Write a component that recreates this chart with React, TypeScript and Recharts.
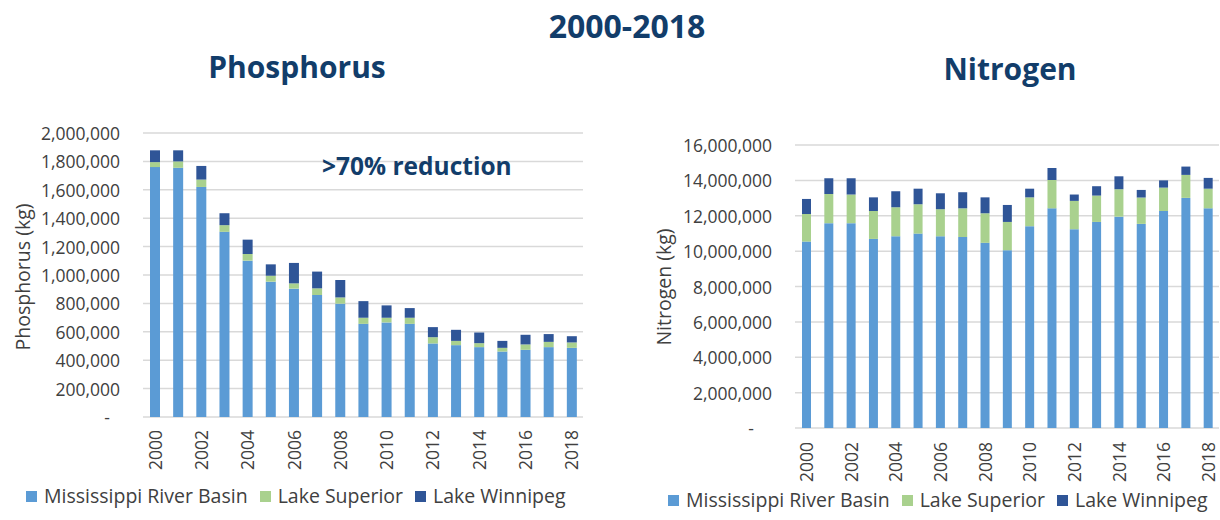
import { BarChart, Bar, XAxis, YAxis, CartesianGrid } from 'recharts';

const YEARS = [
  '2000', '2001', '2002', '2003', '2004', '2005', '2006', '2007', '2008', '2009',
  '2010', '2011', '2012', '2013', '2014', '2015', '2016', '2017', '2018',
];

// Phosphorus loads (kg)
const P_MISSISSIPPI = [
  1760000, 1755000, 1620000, 1304000, 1101000, 953000, 904000, 859000, 798000, 656000,
  666000, 656000, 518000, 506000, 492000, 461000, 473000, 492000, 487000,
];
const P_SUPERIOR = [
  35000, 45000, 52000, 47000, 47000, 42000, 37000, 47000, 44000, 43000,
  33000, 43000, 44000, 30000, 28000, 26000, 38000, 37000, 38000,
];
const P_WINNIPEG = [
  83000, 78000, 96000, 84000, 101000, 80000, 144000, 118000, 123000, 117000,
  87000, 68000, 71000, 78000, 75000, 49000, 68000, 55000, 44000,
];

// Nitrogen loads (kg)
const N_MISSISSIPPI = [
  10540000, 11580000, 11580000, 10690000, 10840000, 10990000, 10840000, 10800000, 10470000, 10050000,
  11410000, 12420000, 11240000, 11650000, 11950000, 11540000, 12270000, 13010000, 12420000,
];
const N_SUPERIOR = [
  1560000, 1650000, 1620000, 1580000, 1640000, 1660000, 1530000, 1620000, 1670000, 1600000,
  1630000, 1600000, 1600000, 1490000, 1550000, 1490000, 1320000, 1300000, 1110000,
];
const N_WINNIPEG = [
  850000, 890000, 920000, 770000, 900000, 880000, 900000, 910000, 900000, 960000,
  490000, 680000, 360000, 530000, 730000, 430000, 410000, 470000, 610000,
];

const P_TICKS = [0, 200000, 400000, 600000, 800000, 1000000, 1200000, 1400000, 1600000, 1800000, 2000000];
const N_TICKS = [0, 2000000, 4000000, 6000000, 8000000, 10000000, 12000000, 14000000, 16000000];

const SERIES = [
  { key: 'mississippi', name: 'Mississippi River Basin', color: '#5B9BD5' },
  { key: 'superior', name: 'Lake Superior', color: '#A9D18E' },
  { key: 'winnipeg', name: 'Lake Winnipeg', color: '#2F5597' },
];

const FONT = '"Open Sans", sans-serif';
const NAVY = '#123D6A';
const TEXT = '#404040';

const phosphorusData = YEARS.map((year, i) => ({
  year,
  mississippi: P_MISSISSIPPI[i],
  superior: P_SUPERIOR[i],
  winnipeg: P_WINNIPEG[i],
}));

const nitrogenData = YEARS.map((year, i) => ({
  year,
  mississippi: N_MISSISSIPPI[i],
  superior: N_SUPERIOR[i],
  winnipeg: N_WINNIPEG[i],
}));

function YTick({ x, y, payload, zeroShift }: any) {
  const zero = payload.value === 0;
  return (
    <text
      x={zero ? x - zeroShift : x}
      y={y}
      textAnchor="end"
      dominantBaseline="central"
      fill={TEXT}
      fontSize={17.5}
      fontFamily={FONT}
    >
      {zero ? '-' : payload.value.toLocaleString('en-US')}
    </text>
  );
}

function XTick({ x, y, payload }: any) {
  return (
    <text
      x={x}
      y={y}
      transform={`rotate(-90, ${x}, ${y})`}
      textAnchor="end"
      dominantBaseline="central"
      fill={TEXT}
      fontSize={17.5}
      fontFamily={FONT}
    >
      {payload.value}
    </text>
  );
}

function StackChart({ data, ticks, yWidth, margin, barSize, xGap, zeroShift }: any) {
  return (
    <BarChart width={600} height={520} data={data} margin={margin}>
      <CartesianGrid vertical={false} stroke="#d9d9d9" strokeWidth={1.5} />
      <XAxis
        dataKey="year"
        interval={1}
        height={60}
        axisLine={false}
        tickLine={false}
        tickSize={0}
        tickMargin={xGap}
        tick={(p: any) => <XTick {...p} />}
      />
      <YAxis
        width={yWidth}
        domain={[0, ticks[ticks.length - 1]]}
        ticks={ticks}
        interval={0}
        axisLine={false}
        tickLine={false}
        tickSize={0}
        tickMargin={23}
        tick={(p: any) => <YTick {...p} zeroShift={zeroShift} />}
      />
      {SERIES.map((s) => (
        <Bar
          key={s.key}
          dataKey={s.key}
          name={s.name}
          stackId="a"
          fill={s.color}
          barSize={barSize}
          isAnimationActive={false}
        />
      ))}
    </BarChart>
  );
}

function LegendRow({ left, top }: { left: number; top: number }) {
  return (
    <div
      style={{
        position: 'absolute',
        left,
        top,
        display: 'flex',
        alignItems: 'center',
        fontFamily: FONT,
        fontSize: 19.5,
        lineHeight: '20px',
        color: TEXT,
        whiteSpace: 'nowrap',
      }}
    >
      {SERIES.map((s, i) => (
        <div key={s.key} style={{ display: 'flex', alignItems: 'center', marginLeft: i === 0 ? 0 : 12 }}>
          <div style={{ width: 11, height: 11, background: s.color, marginRight: 7 }} />
          <span>{s.name}</span>
        </div>
      ))}
    </div>
  );
}

export default function App() {
  return (
    <div
      style={{
        position: 'absolute',
        left: 0,
        top: 0,
        width: 1220,
        height: 520,
        overflow: 'hidden',
        background: '#fff',
      }}
    >
      <div style={{ position: 'absolute', left: 0, top: 0 }}>
        <StackChart
          data={phosphorusData}
          ticks={P_TICKS}
          yWidth={143}
          margin={{ top: 133, right: 17, bottom: 43, left: 0 }}
          barSize={10}
          xGap={13}
          zeroShift={10}
        />
      </div>
      <div style={{ position: 'absolute', left: 640, top: 0 }}>
        <StackChart
          data={nitrogenData}
          ticks={N_TICKS}
          yWidth={155}
          margin={{ top: 145, right: 21, bottom: 32, left: 0 }}
          barSize={9}
          xGap={14}
          zeroShift={18}
        />
      </div>

      <svg
        width={1220}
        height={520}
        style={{ position: 'absolute', left: 0, top: 0, pointerEvents: 'none' }}
      >
        <text x={627} y={38} textAnchor="middle" fontFamily={FONT} fontWeight={700} fontSize={32} fill={NAVY}>
          2000-2018
        </text>
        <text x={297} y={78} textAnchor="middle" fontFamily={FONT} fontWeight={700} fontSize={30} fill={NAVY}>
          Phosphorus
        </text>
        <text x={1010} y={80} textAnchor="middle" fontFamily={FONT} fontWeight={700} fontSize={30} fill={NAVY}>
          Nitrogen
        </text>
        <text x={322} y={175} fontFamily={FONT} fontWeight={700} fontSize={24.5} fill={NAVY}>
          &gt;70% reduction
        </text>
        <text
          x={22}
          y={277}
          transform="rotate(-90, 22, 277)"
          textAnchor="middle"
          dominantBaseline="central"
          fontFamily={FONT}
          fontSize={19.5}
          fill={TEXT}
        >
          Phosphorus (kg)
        </text>
        <text
          x={663}
          y={287}
          transform="rotate(-90, 663, 287)"
          textAnchor="middle"
          dominantBaseline="central"
          fontFamily={FONT}
          fontSize={19.5}
          fill={TEXT}
        >
          Nitrogen (kg)
        </text>
      </svg>

      <LegendRow left={26} top={486} />
      <LegendRow left={668} top={490} />
    </div>
  );
}
